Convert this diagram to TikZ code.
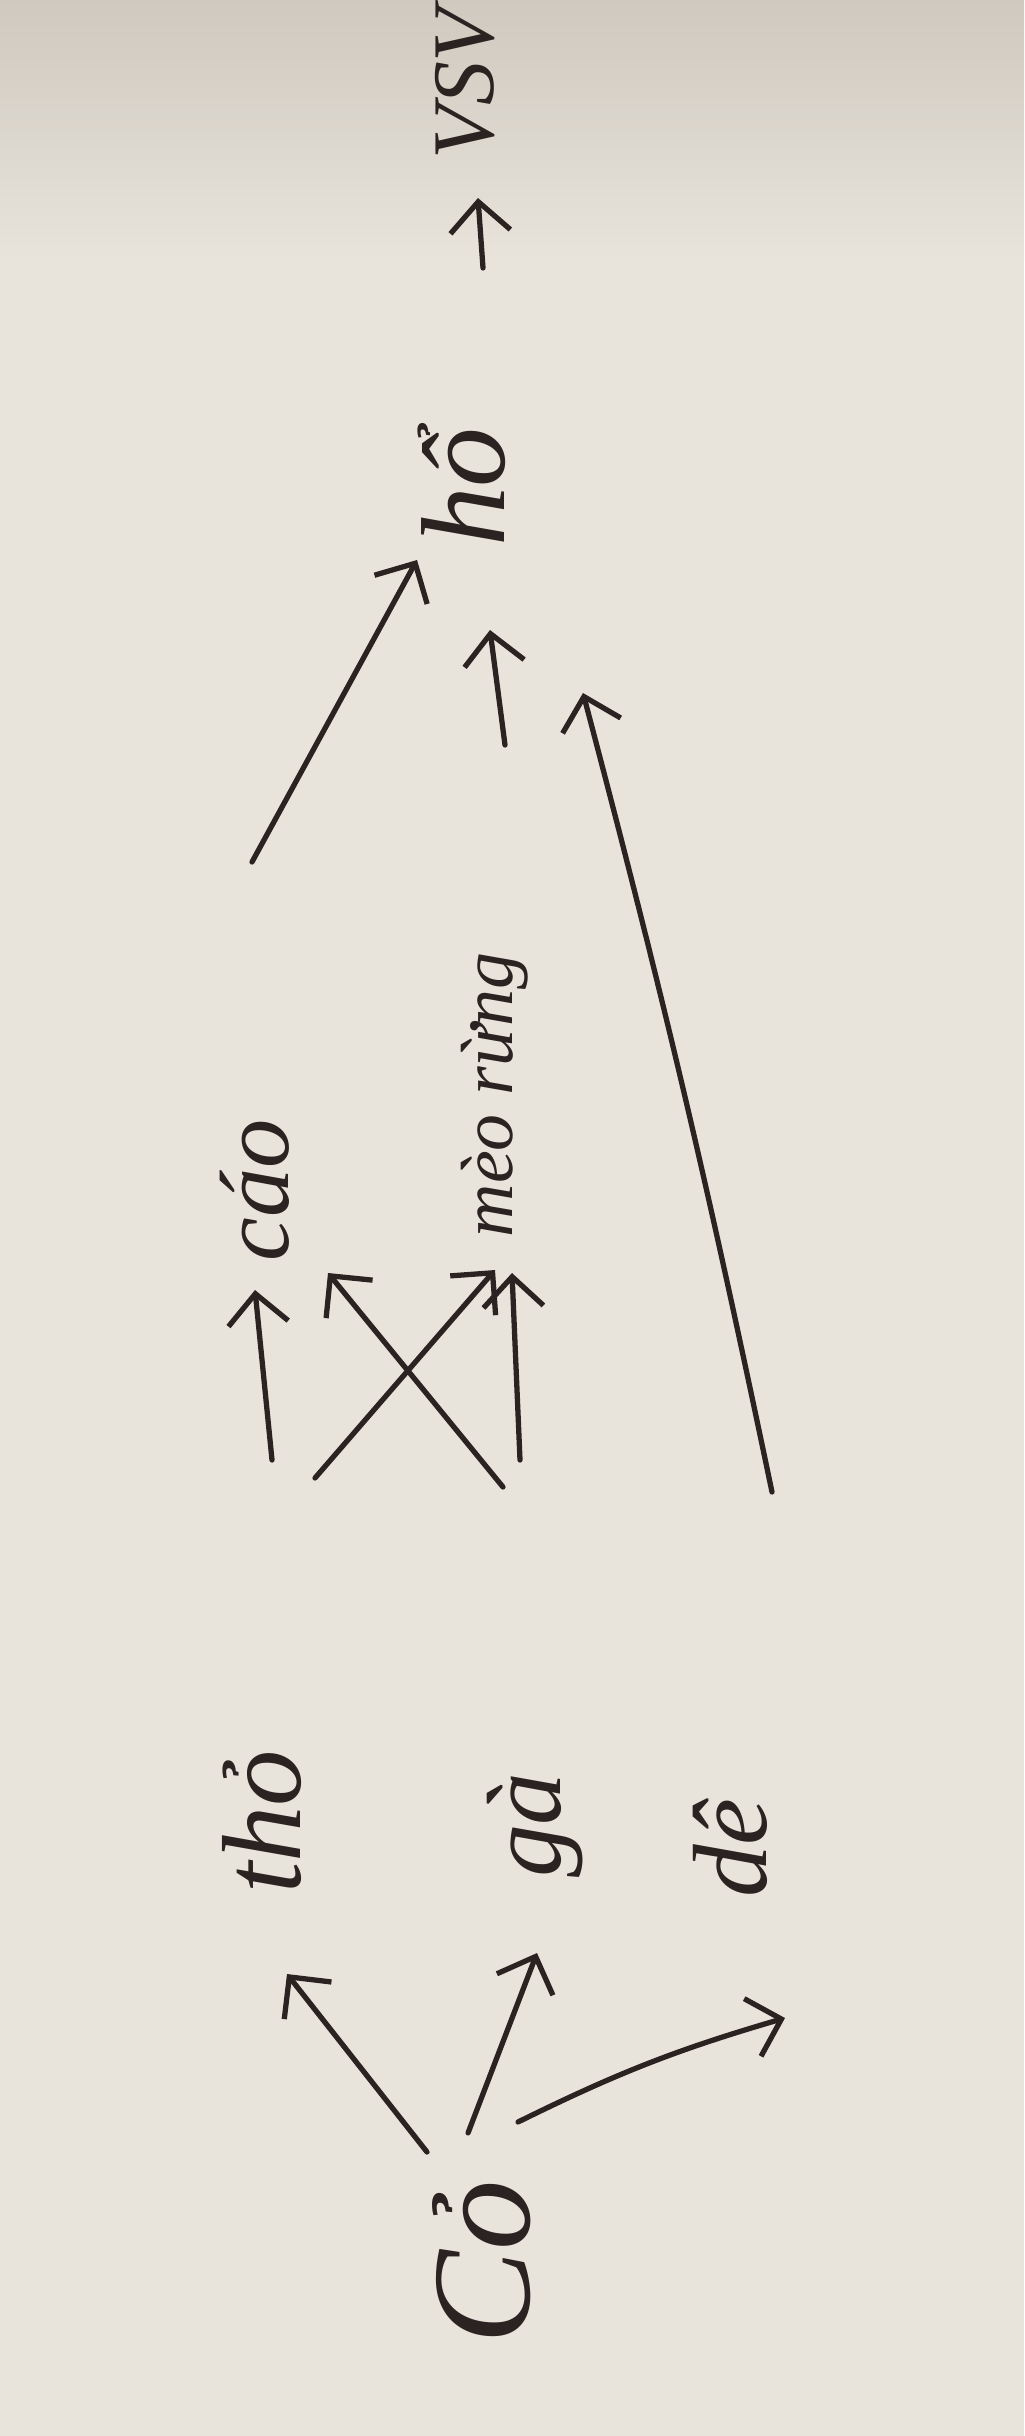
\documentclass[tikz,border=0pt]{standalone}
\usepackage{fontspec}
\setmainfont{Liberation Serif}
\usetikzlibrary{arrows.meta}
\definecolor{paper}{HTML}{E8E4DB}
\definecolor{papertop}{HTML}{CFC9BF}
\definecolor{ink}{HTML}{2B2321}
\tikzset{
  word/.style={text=ink, rotate=90, inner sep=0pt, font=\itshape},
  arr/.style={draw=ink, line width=1.5pt, line cap=round,
    -{Straight Barb[length=3mm,width=6mm,line width=1.5pt]}},
}
\begin{document}
\begin{tikzpicture}[x=0.01cm,y=-0.01cm]
\useasboundingbox (0,0) rectangle (1024,2436);
\clip (0,0) rectangle (1024,2436);
\fill[paper] (0,0) rectangle (1024,2436);
\shade[top color=papertop, bottom color=paper] (0,0) rectangle (1024,260);
% words
\node[word, font=\itshape\fontsize{40}{40}\selectfont] (co) at (482,2262) {Cỏ};
\node[word, font=\itshape\fontsize{32}{32}\selectfont] (tho) at (262,1822) {thỏ};
\node[word, font=\itshape\fontsize{30}{30}\selectfont] (ga) at (535,1825) {gà};
\node[word, font=\itshape\fontsize{30}{30}\selectfont] (de) at (730,1848) {dê};
\node[word, font=\itshape\fontsize{28}{28}\selectfont] (cao) at (255,1190) {cáo};
\node[word, font=\itshape\fontsize{21}{21}\selectfont] (meo) at (495,1095) {mèo rừng};
\node[word, font=\itshape\fontsize{34}{34}\selectfont] (ho) at (462,487) {hổ};
\node[word, font=\itshape\fontsize{25}{25}\selectfont] (vsv) at (465,84) {VSV};
% arrow end points
\coordinate (coA) at (427,2152);  \coordinate (thoIn) at (287,1974);
\coordinate (coB) at (468,2133);  \coordinate (gaIn) at (537,1953);
\coordinate (coC) at (518,2122);  \coordinate (deIn) at (785,2018);
\coordinate (thoA) at (272,1460); \coordinate (caoInA) at (255,1290);
\coordinate (thoB) at (315,1478); \coordinate (meoInA) at (495,1270);
\coordinate (gaA) at (503,1487);  \coordinate (caoInB) at (328,1273);
\coordinate (gaB) at (520,1460);  \coordinate (meoInB) at (512,1273);
\coordinate (caoOut) at (252,862); \coordinate (hoInA) at (417,560);
\coordinate (meoOut) at (505,745); \coordinate (hoInB) at (490,630);
\coordinate (deOut) at (772,1492); \coordinate (hoInC) at (583,693);
\coordinate (hoOut) at (483,268);  \coordinate (vsvIn) at (478,198);
% connectors
\draw[arr] (coA) -- (thoIn);
\draw[arr] (coB) -- (gaIn);
\draw[arr] (coC) to[bend left=5] (deIn);
\draw[arr] (thoA) -- (caoInA);
\draw[arr] (thoB) -- (meoInA);
\draw[arr] (gaA) -- (caoInB);
\draw[arr] (gaB) -- (meoInB);
\draw[arr] (caoOut) -- (hoInA);
\draw[arr] (meoOut) -- (hoInB);
\draw[arr] (deOut) to[bend right=1.5] (hoInC);
\draw[arr] (hoOut) -- (vsvIn);
\end{tikzpicture}
\end{document}
